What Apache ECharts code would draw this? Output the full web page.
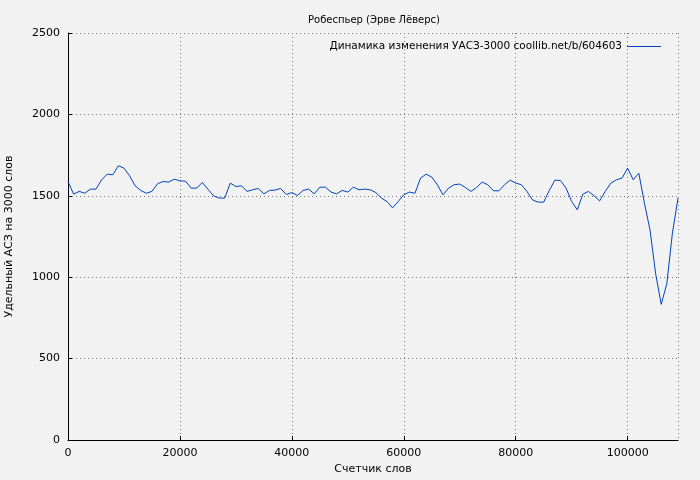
<!DOCTYPE html>
<html><head><meta charset="utf-8">
<script src="https://cdn.jsdelivr.net/npm/echarts@6/dist/echarts.min.js"></script>
<style>html,body{margin:0;background:#f2f2f2}#c{width:700px;height:480px}</style>
</head><body><div id="c"></div>
<script>
const words = [];
for (let i = 0; i <= 109; i++) words.push(i * 1000);
const values = [1588,1510,1527,1516,1541,1541,1598,1633,1629,1685,1670,1623,1561,1533,1516,1527,1574,1588,1584,1602,
1592,1590,1547,1547,1582,1541,1500,1486,1486,1578,1557,1561,1527,1537,1545,1512,1533,1535,1545,1508,
1520,1502,1533,1541,1512,1553,1553,1523,1512,1533,1523,1553,1537,1541,1537,1520,1486,1465,1426,1465,
1506,1523,1516,1609,1633,1615,1568,1506,1547,1568,1572,1551,1527,1551,1584,1568,1531,1531,1568,1596,
1578,1568,1527,1475,1461,1461,1533,1596,1594,1547,1465,1414,1510,1527,1500,1469,1527,1578,1598,1609,
1670,1598,1639,1455,1290,1022,833,960,1270,1486];
const seriesName = 'Динамика изменения УАСЗ-3000 coollib.net/b/604603';
const font = 'DejaVu Sans';
const chart = echarts.init(document.getElementById('c'));
const split = {show: true, lineStyle: {type: [1, 3], color: '#777', width: 1}};
chart.setOption({
  backgroundColor: '#f2f2f2',
  animation: false,
  textStyle: {fontFamily: font},
  title: {text: 'Робеспьер (Эрве Лёверс)', left: 303, top: 10,
    textStyle: {fontSize: 10, fontWeight: 'normal', color: '#000', fontFamily: font}},
  legend: {right: 34, top: 36, itemWidth: 34, itemHeight: 1, itemGap: 5, align: 'right',
    textStyle: {fontSize: 10.5, color: '#000', fontFamily: font},
    data: [{name: seriesName, icon: 'rect'}]},
  grid: {left: 68, right: 22, top: 33, bottom: 40, show: false, outerBoundsMode: 'none', containLabel: false},
  xAxis: {type: 'value', min: 0, max: 109000, interval: 20000,
    name: 'Счетчик слов', nameLocation: 'middle', nameGap: 24,
    nameTextStyle: {fontSize: 11, color: '#000', fontFamily: font},
    axisLine: {show: true, lineStyle: {color: '#000'}},
    axisTick: {show: true, inside: true, length: 4, lineStyle: {color: '#000'}},
    axisLabel: {fontSize: 11, color: '#000', fontFamily: font, showMaxLabel: false, formatter: v => String(v)},
    splitLine: split},
  yAxis: {type: 'value', min: 0, max: 2500, interval: 500,
    name: 'Удельный АСЗ на 3000 слов', nameLocation: 'middle', nameGap: 53,
    nameTextStyle: {fontSize: 11, color: '#000', fontFamily: font},
    axisLine: {show: true, lineStyle: {color: '#000'}},
    axisTick: {show: true, inside: true, length: 4, lineStyle: {color: '#000'}},
    axisLabel: {fontSize: 11, color: '#000', fontFamily: font, formatter: v => String(v)},
    splitLine: split},
  series: [{name: seriesName, type: 'line', showSymbol: false,
    data: words.map((w, i) => [w, values[i]]),
    lineStyle: {color: '#0044bb', width: 1}, itemStyle: {color: '#0044bb'}}]
});
</script></body></html>
